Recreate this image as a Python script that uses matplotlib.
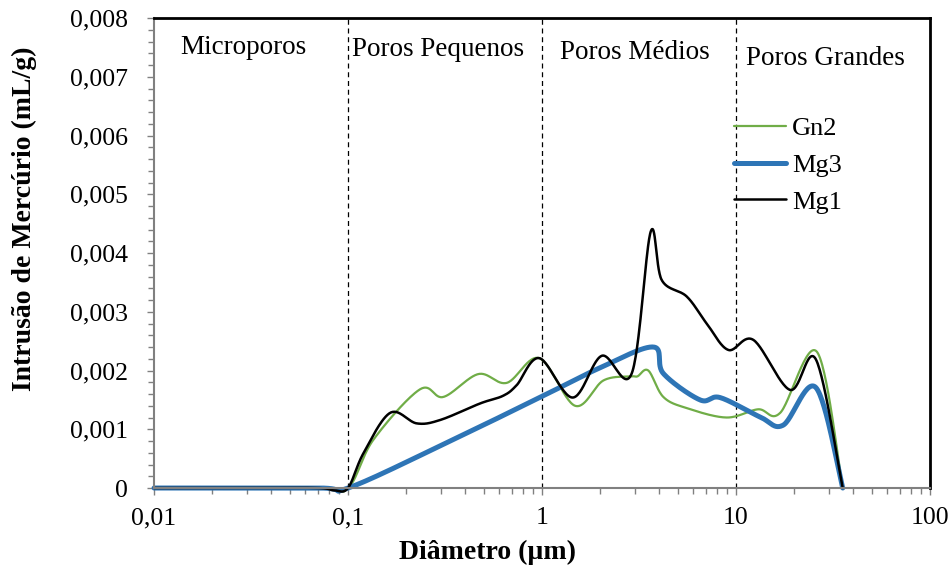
import matplotlib.pyplot as plt
import numpy as np
from matplotlib.ticker import FixedLocator, LogLocator, MultipleLocator, NullFormatter

plt.rcParams["font.family"] = ["Liberation Serif", "DejaVu Serif"]

# Pore diameter (um) and mercury intrusion (mL/g) for each sample
gn2_diam = [0.01, 0.07, 0.1, 0.135, 0.235, 0.31, 0.47, 0.658, 0.968, 1.48, 2.07,
            2.84, 3.1, 3.53, 4.22, 5.57, 8.95, 13.0, 16.9, 26.1, 35.5]
gn2_intr = [0, 0, 0, 0.00082, 0.00168, 0.00155, 0.00194, 0.00179, 0.00221, 0.0014,
            0.00183, 0.0019, 0.0019, 0.002, 0.00155, 0.00136, 0.0012, 0.00134,
            0.00128, 0.00232, 0]

mg3_diam = [0.01, 0.07, 0.1, 0.3, 1.0, 2.0, 3.75, 4.22, 6.52, 8.27, 13.3, 17.5,
            25.8, 35.5]
mg3_intr = [0, 0, 0, 0.00072, 0.00156, 0.00205, 0.0024, 0.00195, 0.0015, 0.00154,
            0.00121, 0.00107, 0.00171, 0]

mg1_diam = [0.01, 0.03, 0.07, 0.085, 0.1, 0.12, 0.165, 0.226, 0.3, 0.48, 0.63,
            0.74, 0.97, 1.44, 2.03, 2.9, 3.63, 4.14, 5.57, 7.06, 9.13, 12.3, 19.0,
            25.8, 35.5]
mg1_intr = [0, 0, 0, -0.00004, 0, 0.00059, 0.00128, 0.0011, 0.00116, 0.00144,
            0.00157, 0.00175, 0.00221, 0.00154, 0.00225, 0.00195, 0.00436, 0.00354,
            0.00326, 0.0028, 0.00235, 0.00252, 0.00167, 0.00219, 0]

regions = ["Microporos", "Poros Pequenos", "Poros Médios", "Poros Grandes"]
boundaries = [0.1, 1, 10]

x_ticks = [0.01, 0.1, 1, 10, 100]
x_tick_labels = ["0,01", "0,1", "1", "10", "100"]
y_ticks = [0, 0.001, 0.002, 0.003, 0.004, 0.005, 0.006, 0.007, 0.008]
y_tick_labels = ["0", "0,001", "0,002", "0,003", "0,004", "0,005", "0,006",
                 "0,007", "0,008"]


def smooth(xs, ys, steps=30):
    # Catmull-Rom curve through the points, built in log-x space
    lx = np.log10(np.asarray(xs, dtype=float))
    ly = np.asarray(ys, dtype=float)
    px = np.concatenate([[lx[0]], lx, [lx[-1]]])
    py = np.concatenate([[ly[0]], ly, [ly[-1]]])
    out_x, out_y = [], []
    t = np.linspace(0, 1, steps, endpoint=False)
    for i in range(1, len(px) - 2):
        for p, out in ((px, out_x), (py, out_y)):
            p0, p1, p2, p3 = p[i - 1], p[i], p[i + 1], p[i + 2]
            seg = 0.5 * ((2 * p1) + (-p0 + p2) * t
                         + (2 * p0 - 5 * p1 + 4 * p2 - p3) * t ** 2
                         + (-p0 + 3 * p1 - 3 * p2 + p3) * t ** 3)
            out.extend(seg)
    out_x.append(lx[-1])
    out_y.append(ly[-1])
    return 10 ** np.array(out_x), np.array(out_y)


fig = plt.figure(figsize=(9.52, 5.74), dpi=100)
ax = fig.add_axes([0.1618, 0.1498, 0.8151, 0.8188])

for xs, ys, color, lw, label in [
    (gn2_diam, gn2_intr, "#70AD47", 1.6, "Gn2"),
    (mg3_diam, mg3_intr, "#2E75B6", 3.6, "Mg3"),
    (mg1_diam, mg1_intr, "black", 1.8, "Mg1"),
]:
    sx, sy = smooth(xs, ys)
    ax.plot(sx, sy, color=color, linewidth=lw, label=label,
            solid_capstyle="round", clip_on=False)

for b in boundaries:
    ax.axvline(b, color="black", linewidth=0.9, linestyle=(0, (4, 3)), zorder=1)

ax.set_xscale("log")
ax.set_xlim(0.01, 100)
ax.set_ylim(0, 0.008)

ax.xaxis.set_major_locator(FixedLocator(x_ticks))
ax.set_xticklabels(x_tick_labels)
ax.xaxis.set_minor_locator(LogLocator(base=10, subs=np.arange(2, 10)))
ax.xaxis.set_minor_formatter(NullFormatter())
ax.set_yticks(y_ticks)
ax.set_yticklabels(y_tick_labels)
ax.yaxis.set_minor_locator(MultipleLocator(0.0002))

ax.tick_params(axis="both", which="major", direction="out", length=5, width=1,
               color="#808080", labelsize=18.5)
ax.tick_params(axis="both", which="minor", direction="out", length=4, width=1,
               color="#808080")
ax.tick_params(axis="y", which="major", pad=13.5)
ax.tick_params(axis="x", which="major", pad=9)

for side in ["left", "bottom"]:
    ax.spines[side].set_color("#808080")
    ax.spines[side].set_linewidth(1.5)
for side in ["top", "right"]:
    ax.spines[side].set_color("black")
    ax.spines[side].set_linewidth(2)

ax.set_xlabel("Diâmetro (µm)", fontsize=20, fontweight="bold", va="center")
ax.xaxis.set_label_coords(0.430, -0.138)
ax.set_ylabel("Intrusão de Mercúrio (mL/g)", fontsize=20, fontweight="bold",
              va="center")
ax.yaxis.set_label_coords(-0.167, 0.572)

# region names across the top of the plot
region_pos = [(0.115, 0.938), (0.366, 0.932), (0.620, 0.926), (0.865, 0.914)]
for name, (tx, ty) in zip(regions, region_pos):
    ax.text(tx, ty, name, transform=ax.transAxes, fontsize=19.5,
            ha="center", va="center")

ax.legend(loc="upper left", bbox_to_anchor=(0.747, 0.79), frameon=False,
          fontsize=19, handlelength=1.97, handletextpad=0.23, labelspacing=0.5,
          borderaxespad=0, borderpad=0)

fig.savefig("out.png", dpi=100)
